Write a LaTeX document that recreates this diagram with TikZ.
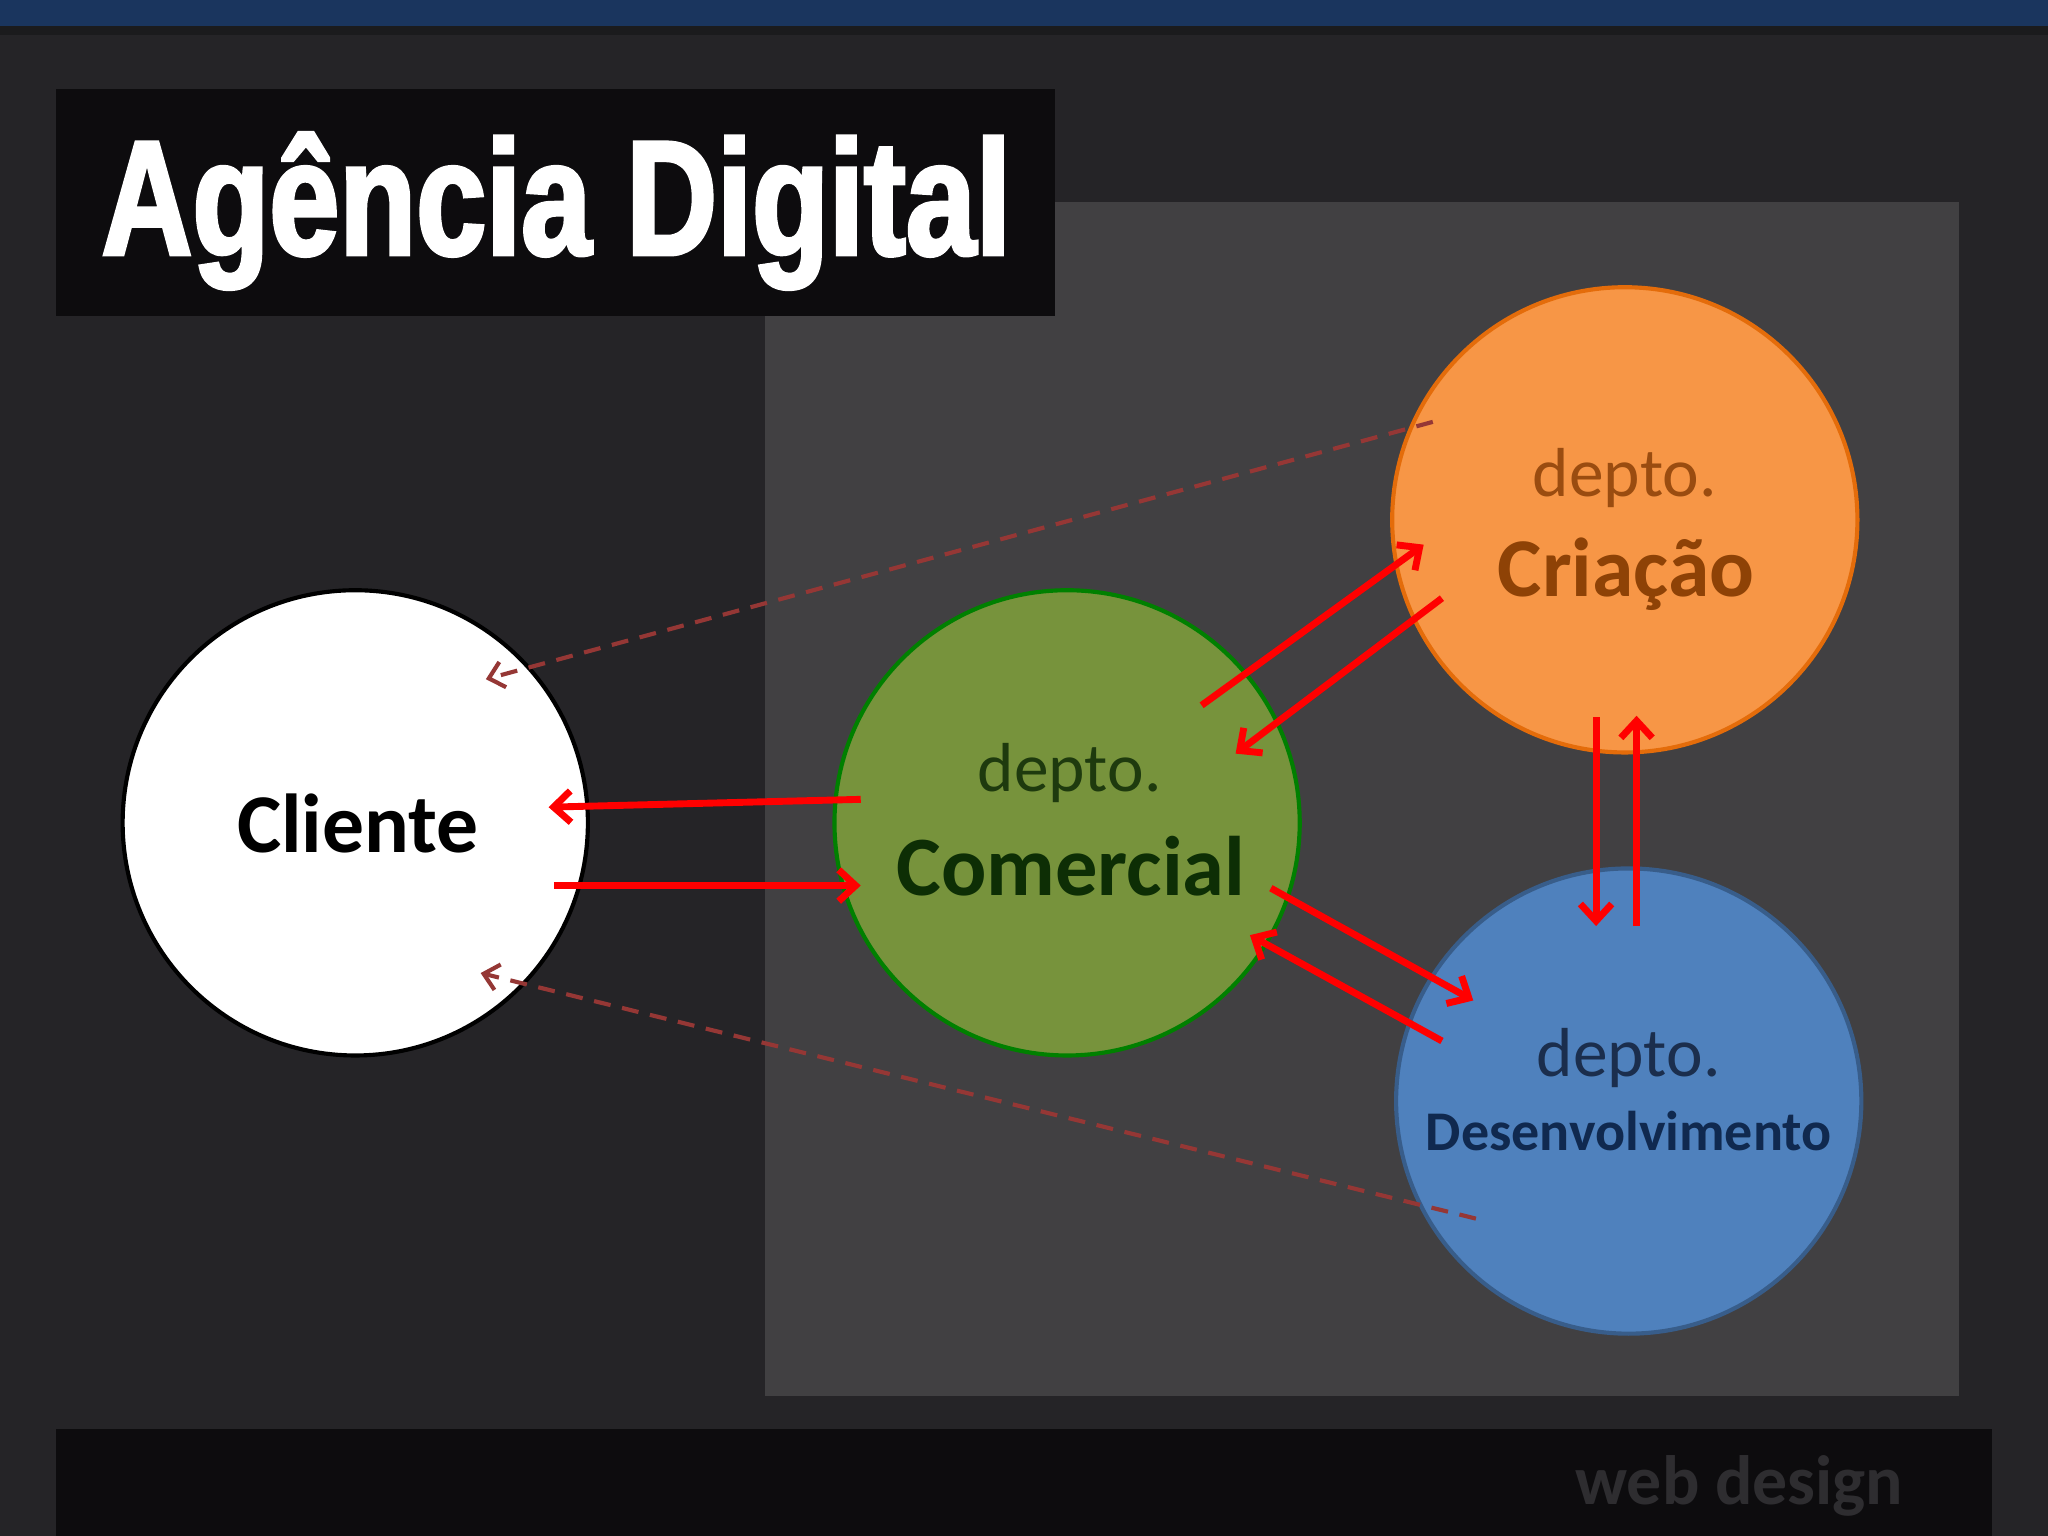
\documentclass[tikz,border=0pt]{standalone}
\usepackage{fontspec}
\setmainfont{Carlito}
\newfontfamily\titlefont[FakeStretch=0.77, BoldFeatures={FakeBold=2.2}]{Liberation Sans}
\usetikzlibrary{arrows.meta,calc}
\definecolor{bgc}{HTML}{252427}
\definecolor{topbar}{HTML}{1A355E}
\definecolor{shadowc}{HTML}{1B1B1D}
\definecolor{panelc}{HTML}{414042}
\definecolor{boxc}{HTML}{0D0C0E}
\definecolor{wdc}{HTML}{2E2D30}
\definecolor{comfill}{HTML}{77933C}
\definecolor{comline}{HTML}{008000}
\definecolor{comtxt}{HTML}{0D2E05}
\definecolor{comtxtb}{HTML}{1E3A0E}
\definecolor{crifill}{HTML}{F79646}
\definecolor{criline}{HTML}{E46C0A}
\definecolor{critxt}{HTML}{8E4206}
\definecolor{critxtb}{HTML}{9A4C10}
\definecolor{desfill}{HTML}{4F81BD}
\definecolor{desline}{HTML}{385D8A}
\definecolor{destxt}{HTML}{10294F}
\definecolor{destxtb}{HTML}{1B2E4D}
\definecolor{dashc}{HTML}{953735}
\definecolor{arrc}{HTML}{FF0000}
\tikzset{
  circ/.style={circle, minimum size=3.56cm, inner sep=0pt, line width=0.9pt},
  txt/.style={inner sep=0pt, anchor=base},
  redarr/.style={arrc, line width=1.5pt, -{Straight Barb[length=1.3mm,width=2.4mm]}},
  dasharr/.style={dashc, line width=0.9pt, dash pattern=on 1.3mm off 0.9mm, -{Straight Barb[length=1.1mm,width=2mm]}}
}
\begin{document}
\begin{tikzpicture}[x=0.01cm,y=-0.01cm]
\useasboundingbox (0,0) rectangle (1568,1176);
\fill[bgc] (0,0) rectangle (1568,1176);
\fill[shadowc] (0,20) rectangle (1568,27);
\fill[topbar] (0,0) rectangle (1568,20);
\fill[panelc] (586,155) rectangle (1500,1069);
\fill[boxc] (43,68) rectangle (808,242);
\fill[boxc] (43,1094) rectangle (1525,1176);
\node[txt, anchor=base west, text=white, font=\titlefont\bfseries\fontsize{35.6}{40}\selectfont] (title) at (77,195) {Agência Digital};
\node[txt, anchor=base east, text=wdc, font=\bfseries\fontsize{15.2}{18}\selectfont] (wd) at (1458,1152) {web design};

\node[circ, fill=white, draw=black] (cli) at (272,630) {};
\node[circ, fill=comfill, draw=comline] (com) at (817,630) {};
\node[circ, fill=crifill, draw=criline] (cri) at (1244,398) {};
\node[circ, fill=desfill, draw=desline] (des) at (1247,843) {};

\node[txt, text=black, font=\bfseries\fontsize{18.2}{22}\selectfont] (clit) at (274,653) {Cliente};
\node[txt, text=comtxtb, font=\fontsize{15.1}{18}\selectfont] (comd) at (819,606) {depto.};
\node[txt, text=comtxt, font=\bfseries\fontsize{18.4}{22}\selectfont] (comt) at (820,686) {Comercial};
\node[txt, text=critxtb, font=\fontsize{15.1}{18}\selectfont] (crid) at (1244,380) {depto.};
\node[txt, text=critxt, font=\bfseries\fontsize{18.2}{22}\selectfont] (crit) at (1245,457) {Criação};
\node[txt, text=destxtb, font=\fontsize{15.1}{18}\selectfont] (desd) at (1247,824) {depto.};
\node[txt, text=destxt, font=\bfseries\fontsize{12.2}{15}\selectfont] (dest) at (1247,881) {Desenvolvimento};

\draw[dasharr] ($(cri.center)+(-147,-75)$) -- ($(cli.center)+(100,-110)$);
\draw[dasharr] ($(des.center)+(-117,90)$) -- ($(cli.center)+(96,115)$);

\draw[redarr] ($(com.center)+(-158,-18)$) -- ($(cli.center)+(148,-12)$);
\draw[redarr] ($(cli.center)+(152,48)$) -- ($(com.center)+(-158,48)$);
\draw[redarr] ($(com.center)+(103,-90)$) -- ($(cri.center)+(-154,19)$);
\draw[redarr] ($(cri.center)+(-140,60)$) -- ($(com.center)+(129,-53)$);
\draw[redarr] ($(com.center)+(156,50)$) -- ($(des.center)+(-119,-77)$);
\draw[redarr] ($(des.center)+(-143,-46)$) -- ($(com.center)+(140,86)$);
\draw[redarr] ($(cri.center)+(-22,151)$) -- ($(des.center)+(-25,-134)$);
\draw[redarr] ($(des.center)+(6,-134)$) -- ($(cri.center)+(9,150)$);
\end{tikzpicture}
\end{document}
